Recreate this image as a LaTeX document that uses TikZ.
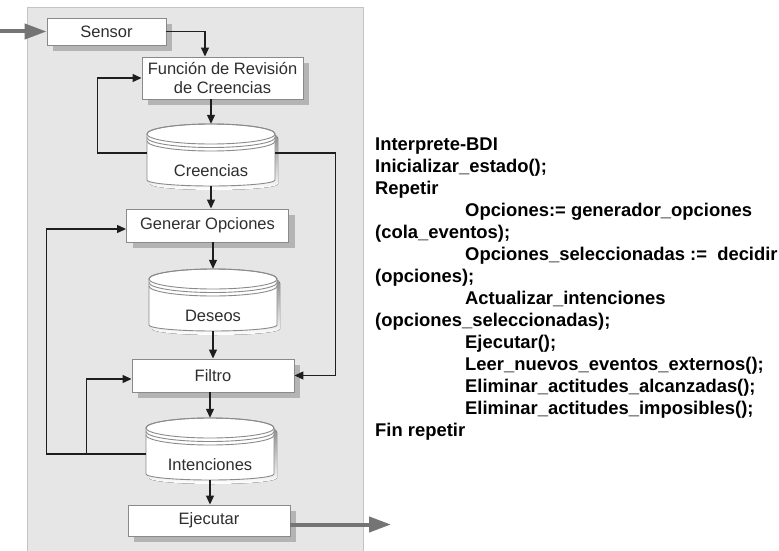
\documentclass[tikz,border=0pt]{standalone}
\usepackage{fontspec}
\setmainfont{Liberation Sans}
\usetikzlibrary{arrows.meta,shadows,calc}

\definecolor{panel}{HTML}{E6E6E6}
\definecolor{paneledge}{HTML}{C4C4C4}
\definecolor{boxedge}{HTML}{8A8A8A}
\definecolor{shade}{HTML}{B4B4B4}
\definecolor{ink}{HTML}{2E2E2E}
\definecolor{wire}{HTML}{1E1E1E}
\definecolor{heavy}{HTML}{747474}

\tikzset{
  procbox/.style={draw=boxedge, line width=0.9pt, fill=white, text=ink,
    font=\fontsize{16.5}{19}\selectfont, inner sep=0pt, align=center,
    general shadow={fill=shade, shadow xshift=6pt, shadow yshift=-6pt}},
  cylspace/.style={inner sep=0pt, minimum width=128pt, minimum height=62pt},
  cyltext/.style={text=ink, font=\fontsize{16.5}{19}\selectfont, inner sep=0pt},
  cyledge/.style={draw=boxedge, line width=0.9pt},
  cylbody/.style={insert path={(-64,-21) -- (-64,25)
      .. controls (-64,28.31) and (-35.35,31) .. (0,31)
      .. controls (35.35,31) and (64,28.31) .. (64,25) -- (64,-21)
      .. controls (64,-26.52) and (35.35,-31) .. (0,-31)
      .. controls (-35.35,-31) and (-64,-26.52) .. (-64,-21) -- cycle}},
  conn/.style={draw=wire, line width=1.2pt, -{Triangle[length=9pt,width=8pt]}},
  bigarrow/.style={draw=heavy, line width=4pt, -{Triangle[length=22pt,width=15pt]}},
  code/.style={font=\bfseries\fontsize{18.4}{22}\selectfont, align=left, inner sep=0pt, text=black}
}

% data store drawn as a cylinder with a triple rim
\newcommand\dbstore[3]{%
  \node[cylspace] (#1) at (#2) {};
  \begin{scope}[shift={(#1.center)}]
    \fill[shade, shift={(3,4)}, cylbody];
    \path[fill=white, cyledge, cylbody];
    \draw[cyledge] (0,-21) ellipse [x radius=64, y radius=10];
    \draw[cyledge] (-64,-17.5) .. controls (-64,-11.98) and (-35.35,-7.5) .. (0,-7.5)
      .. controls (35.35,-7.5) and (64,-11.98) .. (64,-17.5);
    \draw[cyledge] (-64,-14) .. controls (-64,-8.48) and (-35.35,-4) .. (0,-4)
      .. controls (35.35,-4) and (64,-8.48) .. (64,-14);
  \end{scope}
  \node[cyltext] (#1-label) at ([yshift=-16pt]#1.center) {#3};
}

\begin{document}
\begin{tikzpicture}[x=1pt, y=-1pt]
  \useasboundingbox (0,0) rectangle (779,551);
  \fill[white] (0,0) rectangle (779,551);

  % agent panel
  \path[fill=panel, draw=paneledge, line width=1pt] (27,8) rectangle (363,570);

  % process boxes
  \node[procbox, minimum width=119pt, minimum height=27pt] (sensor) at (106.5,31.5) {Sensor};
  \node[procbox, minimum width=161pt, minimum height=42pt] (fun) at (222.5,78)
    {Función de Revisión\\de Creencias};
  \node[procbox, minimum width=162pt, minimum height=33pt] (gen) at (207.5,225.5) {Generar Opciones};
  \node[procbox, minimum width=162pt, minimum height=33pt] (fil) at (213,375.5) {Filtro};
  \node[procbox, minimum width=162pt, minimum height=31pt] (eje) at (209,520.5) {Ejecutar};

  % data stores
  \dbstore{cre}{211,155}{Creencias}
  \dbstore{des}{213,300}{Deseos}
  \dbstore{int}{210,449}{Intenciones}

  % external input and output
  \coordinate (in) at (0,31.5);
  \coordinate (out) at (391,524.5);
  \draw[bigarrow] (in) -- (sensor.west);
  \draw[bigarrow] ([yshift=-4pt]eje.east) -- (out);

  % main flow
  \draw[conn] (sensor.east) -| ([xshift=-17.5pt]fun.north);
  \draw[conn] (fun.south -| cre.north) -- (cre.north);
  \draw[conn] (cre.south) -- (cre.south |- gen.north);
  \draw[conn] (des.north |- gen.south) -- (des.north);
  \draw[conn] (des.south) -- (des.south |- fil.north);
  \draw[conn] (int.north |- fil.south) -- (int.north);
  \draw[conn] (int.south) -- (int.south |- eje.north);

  % feedback loops
  \draw[conn] ([yshift=2pt]cre.west) -- ++(-49,0) |- (fun.west);
  \draw[conn] ([yshift=2pt]cre.east) -- ++(60,0) |- (fil.east);
  \draw[conn] ([yshift=-5pt]int.west) -- ++(-99,0) |- ([yshift=-3.5pt]gen.west);
  \coordinate (jn) at ([xshift=-59pt, yshift=-5pt]int.west);
  \draw[conn] (jn) |- ([yshift=-3.5pt]fil.west);

  % interpreter pseudo-code
  \node[code, anchor=north west] (bdi) at (375,137.5) {%
    Interprete-BDI\\
    Inicializar\_estado();\\
    Repetir\\
    \hspace*{90pt}Opciones:= generador\_opciones\\
    (cola\_eventos);\\
    \hspace*{90pt}Opciones\_seleccionadas :=\ \ decidir\\
    (opciones);\\
    \hspace*{90pt}Actualizar\_intenciones\\
    (opciones\_seleccionadas);\\
    \hspace*{90pt}Ejecutar();\\
    \hspace*{90pt}Leer\_nuevos\_eventos\_externos();\\
    \hspace*{90pt}Eliminar\_actitudes\_alcanzadas();\\
    \hspace*{90pt}Eliminar\_actitudes\_imposibles();\\
    Fin repetir};
\end{tikzpicture}
\end{document}
